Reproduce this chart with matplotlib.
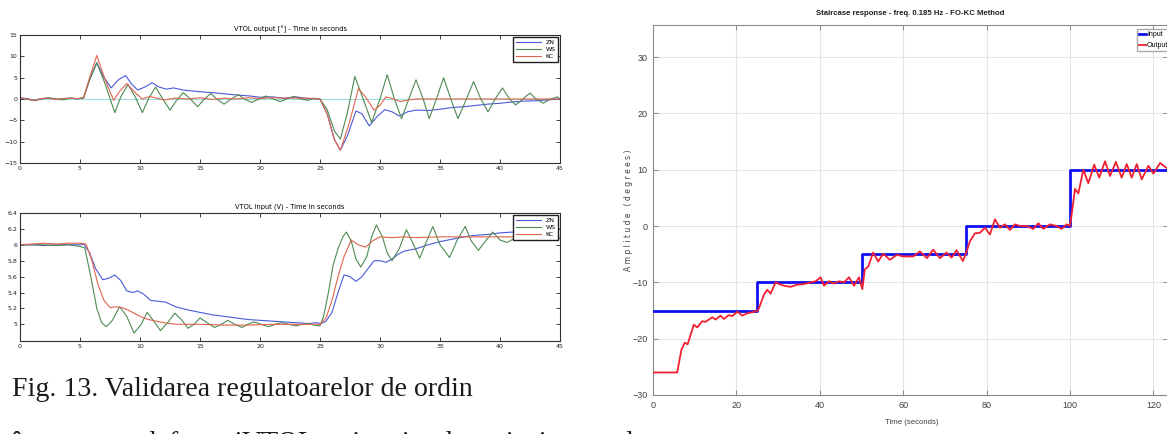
import matplotlib
matplotlib.use("Agg")
import matplotlib.pyplot as plt
from matplotlib import font_manager

# ---------------- data ----------------
# top-left: VTOL output [deg]
zn_out_t = [0, 0.6, 1.2, 1.8, 2.4, 3.0, 3.6, 4.2, 4.8, 5.3, 5.8, 6.4, 7.0, 7.6, 8.2, 8.8, 9.3, 9.8, 10.4, 11.0,
            11.6, 12.2, 12.8, 13.6, 15, 16.4, 17.8, 19.2, 20, 21, 22, 23, 24, 25, 25.6, 26.2, 26.7, 27.3, 28.0, 28.5,
            29.1, 29.8, 30.4, 31.0, 31.6, 32.3, 33, 34, 35, 36, 37, 38, 39, 40, 41, 42, 43, 44, 45]
zn_out_y = [0.3, 0.1, -0.4, 0.0, 0.2, -0.1, 0.1, 0.2, 0.0, 0.3, 4.5, 8.5, 5.0, 2.6, 4.5, 5.5, 3.5, 2.1, 2.8, 3.8,
            2.8, 2.3, 2.6, 2.1, 1.7, 1.4, 1.0, 0.7, 0.4, 0.5, 0.2, 0.5, 0.1, 0.0, -3.5, -9.5, -12.0, -8.5, -2.8, -3.5,
            -6.3, -4.0, -2.5, -3.0, -4.0, -3.0, -2.6, -2.7, -2.4, -2.0, -1.8, -1.5, -1.2, -1.0, -0.7, -0.5, -0.4, -0.2, 0.0]

ws_out_t = [0, 0.6, 1.2, 1.8, 2.4, 3.0, 3.6, 4.2, 4.8, 5.3, 5.8, 6.4, 7.1, 7.9, 8.4, 9.0, 9.6, 10.2, 10.7, 11.3,
            11.9, 12.5, 13.0, 13.6, 14.2, 14.8, 15.3, 15.9, 16.4, 17.0, 17.6, 18.2, 18.7, 19.3, 19.9, 20.5, 21.1, 21.7,
            22.2, 22.8, 23.4, 24.0, 24.5, 25.0, 25.6, 26.2, 26.7, 27.3, 27.9, 28.6, 29.3, 30.0, 30.6, 31.2, 31.8, 32.4,
            33.0, 33.6, 34.1, 34.7, 35.3, 35.9, 36.5, 37.2, 37.8, 38.4, 39.0, 39.6, 40.2, 40.8, 41.3, 41.9, 42.5, 43.0,
            43.6, 44.2, 44.8, 45]
ws_out_y = [0.2, -0.1, -0.3, 0.1, 0.3, 0.0, -0.2, 0.2, 0.1, 0.2, 4.5, 8.5, 3.5, -3.2, 0.5, 3.4, 0.5, -3.2, 0.0, 2.8,
            0.0, -2.6, -0.5, 1.5, 0.0, -1.8, -0.2, 1.3, 0.0, -1.2, 0.0, 1.0, 0.0, -0.8, 0.0, 0.7, 0.0, -0.6,
            0.0, 0.6, 0.0, -0.3, 0.2, 0.0, -2.5, -7.5, -9.4, -3.0, 5.3, 0.0, -5.5, 0.0, 5.7, 0.0, -4.6, 0.0,
            4.5, 0.0, -4.6, 0.0, 5.0, 0.0, -4.6, 0.0, 4.1, 0.0, -3.0, 0.0, 2.6, 0.0, -1.4, 0.0, 1.4, 0.0,
            -1.0, 0.0, 0.5, 0.0]

kc_out_t = [0, 0.6, 1.2, 1.8, 2.4, 3.0, 3.6, 4.2, 4.8, 5.3, 5.8, 6.4, 7.1, 7.8, 8.3, 8.9, 9.6, 10.2, 10.8, 11.4,
            12, 13, 14, 15, 16, 17, 18, 19, 20, 21, 22, 23, 24, 25, 25.6, 26.2, 26.7, 27.4, 28.2, 28.8, 29.5, 30.0,
            30.5, 31.1, 31.7, 32.4, 33, 35, 37, 39, 41, 43, 45]
kc_out_y = [0.2, 0.0, -0.3, 0.1, 0.2, -0.1, 0.1, 0.2, 0.1, 0.3, 5.0, 10.2, 4.5, -0.3, 1.8, 3.6, 1.5, 0.0, 0.6, 0.2,
            -0.2, 0.2, 0.0, 0.3, -0.1, 0.2, 0.0, 0.3, 0.1, 0.3, 0.2, 0.2, 0.2, 0.0, -3.5, -9.5, -12.0, -6.0, 2.4, 0.5,
            -2.6, -1.5, 0.5, 0.0, -0.6, -0.2, 0.0, 0.0, 0.0, 0.0, 0.0, 0.0, 0.0]

ref_out_t = [0, 45]
ref_out_y = [0, 0]

# bottom-left: VTOL input (V)
zn_in_t = [0, 1, 2, 3, 4, 5, 5.3, 5.8, 6.3, 6.9, 7.4, 7.9, 8.4, 8.9, 9.4, 9.8, 10.3, 10.9, 11.5, 12.1, 13, 14, 15,
           16, 17, 18, 19, 20, 21, 22, 23, 24, 24.7, 25.1, 25.5, 26, 26.5, 27.0, 27.5, 28.0, 28.5, 29, 29.5, 30, 30.5,
           31, 31.5, 32, 33, 34, 35, 36, 37, 38, 39, 40, 41, 42, 43, 44, 45]
zn_in_y = [6.0, 6.0, 5.99, 6.0, 6.0, 6.0, 6.01, 5.9, 5.7, 5.56, 5.58, 5.62, 5.55, 5.42, 5.4, 5.42, 5.38, 5.3, 5.29,
           5.28, 5.22, 5.18, 5.15, 5.12, 5.1, 5.08, 5.06, 5.05, 5.04, 5.03, 5.02, 5.01, 5.02, 5.01, 5.04, 5.15, 5.4,
           5.62, 5.6, 5.54, 5.6, 5.7, 5.8, 5.8, 5.78, 5.82, 5.88, 5.92, 5.95, 6.0, 6.04, 6.07, 6.1, 6.12, 6.13, 6.15,
           6.16, 6.17, 6.18, 6.19, 6.2]

ws_in_t = [0, 1, 2, 3, 4, 5, 5.4, 5.9, 6.4, 6.8, 7.2, 7.7, 8.3, 8.9, 9.5, 10.1, 10.6, 11.2, 11.7, 12.3, 12.9, 13.5,
           14.0, 14.5, 15.0, 15.6, 16.2, 16.8, 17.3, 17.9, 18.5, 19.0, 19.5, 20.1, 20.7, 21.3, 21.8, 22.4, 23.0, 23.5,
           24.0, 24.5, 25.0, 25.3, 25.7, 26.1, 26.5, 26.9, 27.2, 27.6, 28.0, 28.4, 28.9, 29.3, 29.7, 30.2, 30.6, 31.0,
           31.6, 32.2, 32.8, 33.3, 33.9, 34.4, 35.0, 35.8, 36.4, 37.1, 37.6, 38.2, 38.8, 39.4, 40.0, 40.6, 41.2, 41.8,
           42.4, 43.0, 43.6, 44.2, 44.8, 45]
ws_in_y = [6.0, 6.0, 6.0, 5.99, 6.0, 5.98, 5.96, 5.6, 5.2, 5.02, 4.97, 5.05, 5.22, 5.1, 4.89, 5.0, 5.15, 5.03, 4.92,
           5.02, 5.14, 5.05, 4.95, 5.0, 5.08, 5.02, 4.96, 5.0, 5.05, 5.0, 4.96, 5.0, 5.03, 5.0, 4.97, 5.0, 5.02, 5.0,
           4.98, 5.0, 5.01, 4.99, 4.98, 5.1, 5.4, 5.75, 5.95, 6.1, 6.16, 6.05, 5.82, 5.72, 5.85, 6.1, 6.25, 6.1, 5.9,
           5.8, 5.95, 6.19, 6.0, 5.83, 6.05, 6.23, 6.0, 5.84, 6.05, 6.23, 6.05, 5.93, 6.05, 6.16, 6.06, 6.03, 6.08,
           6.12, 6.08, 6.05, 6.08, 6.1, 6.07, 6.08]

kc_in_t = [0, 1, 2, 3, 4, 5, 5.5, 6.0, 6.5, 7.0, 7.5, 8.0, 8.5, 9.0, 9.5, 10, 10.5, 11, 12, 13, 14, 15, 17, 19, 21,
           23, 24, 25, 25.5, 26, 26.5, 27, 27.6, 28.2, 28.8, 29.4, 30, 31, 32, 33, 35, 37, 39, 41, 43, 45]
kc_in_y = [6.0, 6.01, 6.02, 6.01, 6.02, 6.02, 6.01, 5.8, 5.5, 5.3, 5.21, 5.22, 5.21, 5.18, 5.14, 5.1, 5.07, 5.05,
           5.02, 5.0, 5.0, 5.0, 4.99, 4.99, 5.0, 5.0, 5.0, 5.0, 5.08, 5.3, 5.6, 5.85, 6.06, 6.0, 5.97, 6.05, 6.1,
           6.09, 6.1, 6.09, 6.1, 6.1, 6.1, 6.1, 6.1, 6.1]

left_series = ["ZN", "WS", "KC"]
top_xticks = [0, 5, 10, 15, 20, 25, 30, 35, 40, 45]
out_yticks = [-15, -10, -5, 0, 5, 10, 15]
in_yticks = [5, 5.2, 5.4, 5.6, 5.8, 6, 6.2, 6.4]
in_yticklabels = ["5", "5.2", "5.4", "5.6", "5.8", "6", "6.2", "6.4"]

# right: staircase response
step_t = [0, 25, 50, 75, 100, 125]
step_y = [-15, -10, -5, 0, 10, 10]

resp_t = [0, 5.8, 6.8, 7.6, 8.3, 9.8, 10.6, 11.8, 12.6, 14.2,
          15.0, 16.2, 17.0, 18.2, 19.0, 20.2, 21.4, 22.6, 23.8, 25.0,
          25.4, 26.6, 27.4, 28.2, 29.4, 30.2, 31.4, 33.0, 34.6, 36.2,
          37.8, 39.0, 40.2, 41.0, 42.2, 43.4, 44.6, 45.8, 47.0, 48.2,
          49.4, 50.2, 50.8, 51.6, 52.8, 54.0, 55.2, 56.8, 58.5, 60.0,
          62.4, 64.0, 65.7, 67.2, 68.8, 70.4, 71.6, 72.8, 74.3, 75.0,
          76.0, 77.2, 78.4, 79.6, 80.8, 82.0, 83.2, 84.4, 85.6, 86.8,
          88.0, 89.6, 91.2, 92.4, 93.6, 95.2, 96.8, 98.0, 99.2, 100.0,
          100.4, 101.2, 102.0, 103.2, 104.4, 105.8, 107.0, 108.4, 109.6, 111.0,
          112.4, 113.6, 114.8, 116.0, 117.2, 118.8, 120.0, 121.6, 123.2, 125]
resp_y = [-26, -26, -22, -20.7, -21, -17.5, -18, -16.9, -17, -16.2,
          -16.6, -15.9, -16.5, -15.8, -16, -15.2, -15.9, -15.5, -15.3, -15.1,
          -14.6, -12.2, -11.3, -12, -10.0, -10.3, -10.6, -10.8, -10.4, -10.3,
          -10.0, -9.8, -9.1, -10.6, -9.8, -10.2, -9.8, -10, -9.1, -10.6,
          -9.1, -11.2, -7.7, -7.2, -4.7, -6.3, -4.9, -6.0, -5.1, -5.4,
          -5.4, -4.5, -5.7, -4.2, -5.7, -4.7, -5.6, -4.3, -6.2, -5.0,
          -2.7, -1.3, -1.2, -0.3, -1.5, 1.2, -0.3, 0.3, -0.7, 0.3,
          0, 0, -0.5, 0.5, -0.5, 0.3, 0, -0.5, 0.3, 0,
          2.1, 6.6, 5.8, 10, 7.6, 10.9, 8.6, 11.5, 8.9, 11.4,
          8.6, 11, 8.6, 11, 8.3, 10.7, 9.3, 11.2, 10.3, 10]
right_xticks = [0, 20, 40, 60, 80, 100, 120]
right_yticks = [-30, -20, -10, 0, 10, 20, 30]

caption_line1 = "Fig. 13. Validarea regulatoarelor de ordin"
caption_line2_words = ["în", "comanda", "formei", "VTOL", "prin", "simulare", "și", "timp", "real"]

# ---------------- styling ----------------
avail = {f.name for f in font_manager.fontManager.ttflist}
narrow = ["Liberation Sans Narrow", "DejaVu Sans"] if "Liberation Sans Narrow" in avail else ["Liberation Sans", "DejaVu Sans"]
serif = ["Liberation Serif", "DejaVu Serif"]

C_ZN = "#4a5ad8"
C_WS = "#4e8a52"
C_KC = "#e0644e"
C_REF = "#9adede"

W, H = 1167, 434
fig = plt.figure(figsize=(W / 100, H / 100), dpi=100)


def rect(l, t, r, b):
    return [l / W, 1 - b / H, (r - l) / W, (b - t) / H]


def matlab_axes(ax):
    for s in ax.spines.values():
        s.set_color("#303030")
        s.set_linewidth(0.8)
    ax.tick_params(direction="in", top=True, right=True, length=3, width=0.6,
                   labelsize=4.5, colors="#202020", pad=2)


def left_legend(ax):
    ax.legend(loc="upper right", fontsize=4.5, frameon=True, fancybox=False, edgecolor="#202020",
              handlelength=4, borderpad=0.4, labelspacing=0.3, borderaxespad=0.3, framealpha=1)


# top-left
ax1 = fig.add_axes(rect(20, 35, 560, 163))
ax1.plot(ref_out_t, ref_out_y, color=C_REF, lw=0.8, zorder=1)
ax1.plot(zn_out_t, zn_out_y, color=C_ZN, lw=0.8, label=left_series[0])
ax1.plot(ws_out_t, ws_out_y, color=C_WS, lw=0.8, label=left_series[1])
ax1.plot(kc_out_t, kc_out_y, color=C_KC, lw=0.8, label=left_series[2])
ax1.set_xlim(0, 45)
ax1.set_ylim(-15, 15)
ax1.set_xticks(top_xticks)
ax1.set_yticks(out_yticks)
matlab_axes(ax1)
ax1.set_title("VTOL output [°] - Time in seconds", fontsize=4.8, pad=3)
left_legend(ax1)

# bottom-left
ax2 = fig.add_axes(rect(20, 213, 560, 341))
ax2.plot(zn_in_t, zn_in_y, color=C_ZN, lw=0.8, label=left_series[0])
ax2.plot(ws_in_t, ws_in_y, color=C_WS, lw=0.8, label=left_series[1])
ax2.plot(kc_in_t, kc_in_y, color=C_KC, lw=0.8, label=left_series[2])
ax2.set_xlim(0, 45)
ax2.set_ylim(4.79, 6.4)
ax2.set_xticks(top_xticks)
ax2.set_yticks(in_yticks)
ax2.set_yticklabels(in_yticklabels)
matlab_axes(ax2)
ax2.set_title("VTOL input (V) - Time in seconds", fontsize=4.8, pad=3)
left_legend(ax2)

# caption (second line is cut by the bottom edge, as in the reference)
fig.text(12 / W, 1 - 396 / H, caption_line1, fontsize=20.1, family=serif,
         color="#1a1a1a", va="baseline", ha="left")
word_x = [12, 68, 168, 242, 330, 392, 496, 532, 592]
for wx, wd in zip(word_x, caption_line2_words):
    fig.text(wx / W, 1 - 450 / H, wd, fontsize=20.1, family=serif,
             color="#1a1a1a", va="baseline", ha="left")

# right
ax3 = fig.add_axes(rect(653, 25, 1168, 395))
ax3.grid(True, color="#e4e4e4", lw=0.8)
ax3.set_axisbelow(True)
ax3.step(step_t, step_y, where="post", color="#1010ee", lw=2.0, label="Input", zorder=3)
ax3.plot(resp_t, resp_y, color="#f02030", lw=1.3, label="Output", zorder=4)
ax3.set_xlim(0, 123.5)
ax3.set_ylim(-30, 35.7)
ax3.set_xticks(right_xticks)
ax3.set_yticks(right_yticks)
for s in ax3.spines.values():
    s.set_color("#8a8a8a")
    s.set_linewidth(0.8)
ax3.tick_params(direction="in", top=True, right=True, length=3.5, width=0.7, colors="#8a8a8a",
                labelcolor="#404040", labelsize=6.5, pad=4)
for lab in ax3.get_xticklabels() + ax3.get_yticklabels():
    lab.set_family(narrow)
ax3.set_title("Staircase response - freq. 0.185 Hz - FO-KC Method", fontsize=5.6, fontweight="bold",
              family=narrow, pad=7, color="#202020")
ax3.set_xlabel("Time (seconds)", fontsize=5.6, family=narrow, color="#404040")
ax3.xaxis.set_label_coords((912 - 653) / 515, -(419 - 395) / 370)
ax3.set_ylabel("A m p l i t u d e   ( d e g r e e s )", fontsize=5.5, color="#404040")
ax3.yaxis.set_label_coords((633 - 653) / 515, 0.5)
leg = ax3.legend(loc="upper left", bbox_to_anchor=((1137 - 653) / 515, 1 - 4 / 370), fontsize=5,
                 frameon=True, fancybox=False, edgecolor="#aaaaaa", handlelength=1.0,
                 handletextpad=0.15, borderpad=0.3, labelspacing=0.6, framealpha=1, borderaxespad=0)
for t in leg.get_texts():
    t.set_family(narrow)

fig.savefig("out.png", dpi=100)
